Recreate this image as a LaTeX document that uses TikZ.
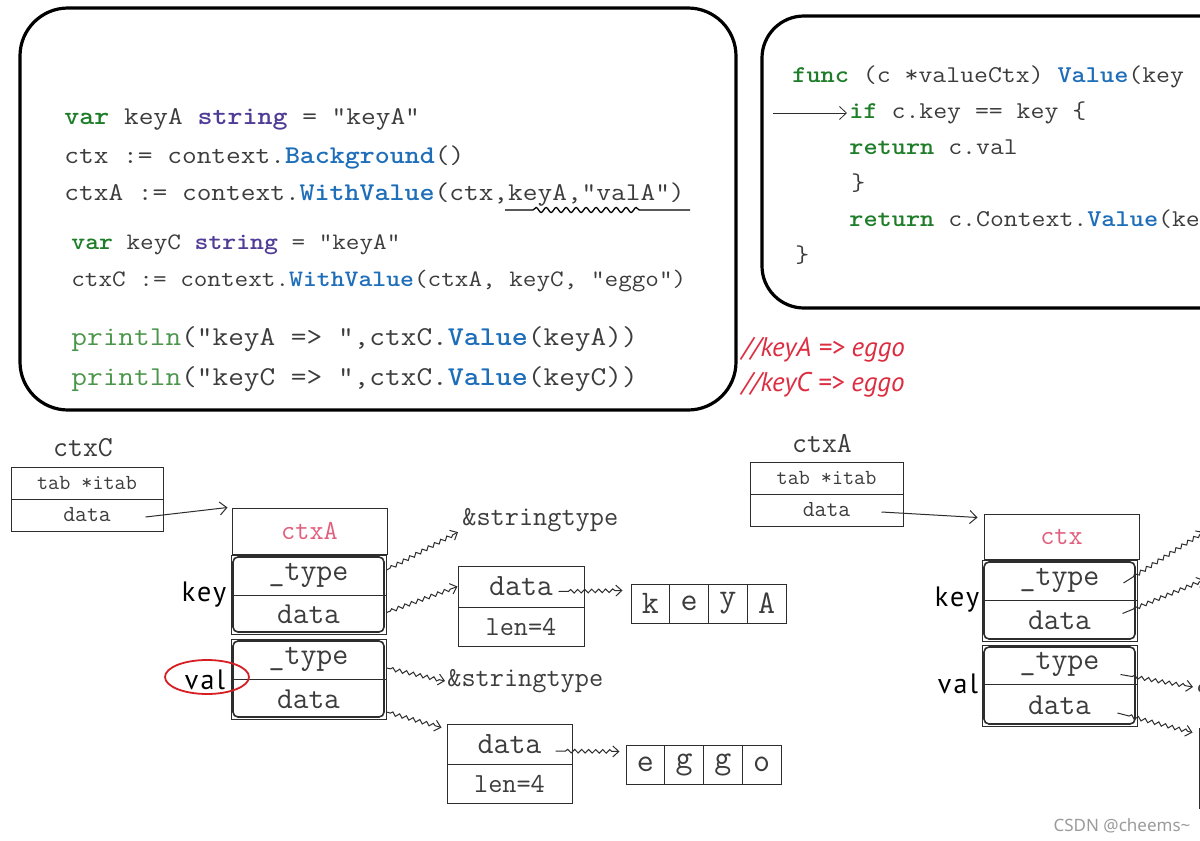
\documentclass[tikz,border=0pt]{standalone}
\usepackage{fontspec}
\usepackage{graphicx}
\setmainfont{Liberation Sans}
\newfontfamily\handfont{PT Sans}
\newfontfamily\markfont{Noto Sans}
\usetikzlibrary{arrows.meta,decorations.pathmorphing,shapes.geometric,fit,calc}

\definecolor{codegray}{RGB}{60,60,60}
\definecolor{kwgreen}{RGB}{30,125,40}
\definecolor{typepurple}{RGB}{80,60,150}
\definecolor{fnblue}{RGB}{30,110,185}
\definecolor{printgreen}{RGB}{75,150,75}
\definecolor{ctxpink}{RGB}{225,95,125}
\definecolor{notered}{RGB}{220,45,65}
\definecolor{ringred}{RGB}{215,30,35}
\definecolor{boxgray}{RGB}{45,45,45}
\definecolor{markgray}{RGB}{155,155,155}

\newcommand{\kw}[1]{\textcolor{kwgreen}{\textbf{#1}}}
\newcommand{\ty}[1]{\textcolor{typepurple}{\textbf{#1}}}
\newcommand{\fn}[1]{\textcolor{fnblue}{\textbf{#1}}}
\newcommand{\fsz}[1]{\fontsize{#1}{#1}\selectfont}
\newcommand{\wide}[1]{\scalebox{1.12}[1]{#1}}

\tikzset{every picture/.style={line width=0.75pt}}
\tikzset{
  codeline/.style={anchor=west, inner sep=0pt, text=codegray, font=\ttfamily\fsz{25.5}},
  cell/.style={draw=boxgray, line width=1pt, inner sep=0pt, text=codegray, font=\ttfamily\fsz{23}},
  charcell/.style={cell, minimum width=38.75pt, minimum height=39pt, font=\ttfamily\fsz{33}},
  framein/.style={draw=boxgray, line width=1.6pt, rounded corners=5pt, inner sep=-2.5pt},
  sidelabel/.style={font=\handfont\addfontfeature{LetterSpace=8}\fsz{28}, text=black, inner sep=0pt},
  note/.style={anchor=west, inner sep=0pt, font=\handfont\itshape\fsz{27}, text=notered},
  wavy/.style={draw=boxgray, line width=1pt, decorate, decoration={snake, amplitude=1.8pt, segment length=7pt, pre length=#1, post length=5pt}, -{Straight Barb[length=6pt,width=11pt]}},
  wavy/.default=4pt,
  plain/.style={draw=boxgray, line width=1pt, -{Straight Barb[length=7pt,width=13pt]}},
}

\begin{document}
\begin{tikzpicture}[x=1pt,y=1pt,yscale=-1,xscale=1]
\path [use as bounding box, fill=white] (0,0) rectangle (1200,841);

%Shape: Rounded Rect [left code]
\draw [line width=3.2pt, rounded corners=48pt] (20,8) rectangle (736,410);
%Shape: Rounded Rect [right code]
\draw [line width=3.2pt, rounded corners=42pt] (762,16) rectangle (1262,308);

% Text Node
\draw (64,119) node (lnA) [codeline] {\wide{\kw{var} keyA \ty{string} = "keyA"}};
% Text Node
\draw (64,157) node (lnB) [codeline] {\wide{ctx := context.\fn{Background}()}};
% Text Node
\draw (64,195) node (lnC) [codeline] {\wide{ctxA := context.\fn{WithValue}(ctx,keyA,"valA")}};
% Text Node
\draw (71,245) node (lnD) [codeline, font=\ttfamily\fsz{23.6}] {\wide{\kw{var} keyC \ty{string} = "keyA"}};
% Text Node
\draw (71,281) node (lnE) [codeline, font=\ttfamily\fsz{23.6}] {\wide{ctxC := context.\fn{WithValue}(ctxA, keyC, "eggo")}};
% Text Node
\draw (71,339) node (lnF) [codeline, font=\ttfamily\fsz{27.2}] {\wide{\textcolor{printgreen}{println}("keyA => ",ctxC.\fn{Value}(keyA))}};
% Text Node
\draw (71,379) node (lnG) [codeline, font=\ttfamily\fsz{27.2}] {\wide{\textcolor{printgreen}{println}("keyC => ",ctxC.\fn{Value}(keyC))}};
%Curve Lines [underline]
\draw [line width=1.3pt, decorate, decoration={snake, amplitude=2.5pt, segment length=10pt, pre length=28pt, post length=48pt}] (505,210) -- (690,210);

% Text Node
\draw (792,77) node (fnA) [codeline, font=\ttfamily\fsz{24.1}] {\wide{\kw{func} (c *valueCtx) \fn{Value}(key}};
% Text Node
\draw (849,113) node (fnB) [codeline, font=\ttfamily\fsz{24.1}] {\wide{\kw{if} c.key == key \{}};
% Text Node
\draw (849,147) node (fnC) [codeline, font=\ttfamily\fsz{24.1}] {\wide{\kw{return} c.val}};
% Text Node
\draw (851,183) node (fnD) [codeline, font=\ttfamily\fsz{24.1}] {\wide{\}}};
% Text Node
\draw (849,219) node (fnE) [codeline, font=\ttfamily\fsz{24.1}] {\wide{\kw{return} c.Context.\fn{Value}(ke}};
% Text Node
\draw (795,255) node (fnF) [codeline, font=\ttfamily\fsz{24.1}] {\wide{\}}};
\coordinate (ifarr) at (773,113);
\draw [plain, line width=0.8pt] (ifarr) -- ([xshift=-2pt]fnB.west);

% Text Node
\draw (742,350) node (noteA) [note] {//keyA => eggo};
% Text Node
\draw (742,385) node (noteC) [note] {//keyC => eggo};

%---- ctxC side
\draw (83,448) node (ctxClbl) [inner sep=0pt, text=codegray, font=\ttfamily\fsz{29}] {ctxC};
\draw (87,483) node (ctxCtab) [cell, minimum width=152pt, minimum height=32pt, font=\ttfamily\fsz{21.5}] {tab *itab};
\draw (87,515) node (ctxCdata) [cell, minimum width=152pt, minimum height=32pt] {data};

\draw (309.5,531) node (ctxAhead) [cell, minimum width=155pt, minimum height=46pt, text=ctxpink, font=\ttfamily\fsz{27.5}] {ctxA};
\draw (308.5,575) node (keytype) [cell, minimum width=155pt, minimum height=40pt, font=\ttfamily\fsz{31}] {\_type};
\draw (308.5,614.5) node (keydata) [cell, minimum width=155pt, minimum height=39pt, font=\ttfamily\fsz{30.5}] {data};
\node [framein, fit=(keytype)(keydata)] {};
\draw (308.5,659) node (valtype) [cell, minimum width=155pt, minimum height=40pt, font=\ttfamily\fsz{31}] {\_type};
\draw (308.5,699) node (valdata) [cell, minimum width=155pt, minimum height=40pt, font=\ttfamily\fsz{30.5}] {data};
\node [framein, fit=(valtype)(valdata)] {};

\draw (204,595) node (keylbl) [sidelabel] {key};
\draw (205,680) node (vallbl) [sidelabel] {val};
\draw (207,677) node (valring) [ellipse, draw=ringred, line width=1.8pt, minimum width=84pt, minimum height=34pt] {};

\draw (462,520) node (strA) [anchor=west, inner sep=0pt, text=codegray, font=\ttfamily\fsz{27.5}] {\&stringtype};
\draw (447,681) node (strB) [anchor=west, inner sep=0pt, text=codegray, font=\ttfamily\fsz{27.5}] {\&stringtype};

\draw (521,586.5) node (dboxAdata) [cell, minimum width=126pt, minimum height=41pt, font=\ttfamily\fsz{31}] {data};
\draw (521,626.5) node (dboxAlen) [cell, minimum width=126pt, minimum height=39pt, font=\ttfamily\fsz{27.5}] {len=4};
\draw (509.5,744) node (dboxBdata) [cell, minimum width=125pt, minimum height=40pt, font=\ttfamily\fsz{31}] {data};
\draw (509.5,783.5) node (dboxBlen) [cell, minimum width=125pt, minimum height=39pt, font=\ttfamily\fsz{27.5}] {len=4};

\foreach \ch [count=\i] in {k,e,y,A}
  \draw (611.625+38.75*\i,603.5) node (kA\i) [charcell] {\ch};
\foreach \ch [count=\i] in {e,g,g,o}
  \draw (606.625+38.75*\i,764.5) node (eg\i) [charcell] {\ch};

%Straight Lines
\draw [plain] ($(ctxCdata.east)+(-18,2)$) -- ($(ctxAhead.north west)+(-4,0)$);
%Snake Lines
\draw [wavy] ($(keytype.east)+(0,-5)$) -- ($(strA.south west)+(-4,0)$);
\draw [wavy] ($(keydata.east)+(0,-2)$) -- (dboxAdata.west);
\draw [wavy] ($(valtype.east)+(0,9)$) -- ([xshift=-2pt]strB.west);
\draw [wavy] ($(valdata.east)+(0,13)$) -- ($(dboxBdata.north west)+(-5,4)$);
\draw [wavy=10pt] ($(dboxAdata.east)+(-26,5)$) -- ($(kA1.west)+(-8,-13)$);
\draw [wavy=10pt] ($(dboxBdata.east)+(-17,7)$) -- ($(eg1.west)+(-6,-13)$);

%---- ctxA side
\draw (822,444) node (ctxAlbl) [inner sep=0pt, text=codegray, font=\ttfamily\fsz{29}] {ctxA};
\draw (826.5,478) node (Atab) [cell, minimum width=153pt, minimum height=32pt, font=\ttfamily\fsz{21.5}] {tab *itab};
\draw (826.5,510) node (Adata) [cell, minimum width=153pt, minimum height=32pt] {data};

\draw (1061.5,536.5) node (ctxhead) [cell, minimum width=155pt, minimum height=45pt, text=ctxpink, font=\ttfamily\fsz{27.5}] {ctx};
\draw (1059.5,580) node (rkeytype) [cell, minimum width=155pt, minimum height=40pt, font=\ttfamily\fsz{31}] {\_type};
\draw (1059.5,620.5) node (rkeydata) [cell, minimum width=155pt, minimum height=41pt, font=\ttfamily\fsz{30.5}] {data};
\node [framein, fit=(rkeytype)(rkeydata)] {};
\draw (1059.5,664.5) node (rvaltype) [cell, minimum width=155pt, minimum height=39pt, font=\ttfamily\fsz{31}] {\_type};
\draw (1059.5,705) node (rvaldata) [cell, minimum width=155pt, minimum height=42pt, font=\ttfamily\fsz{30.5}] {data};
\node [framein, fit=(rvaltype)(rvaldata)] {};

\draw (957,600) node (rkeylbl) [sidelabel] {key};
\draw (958,684) node (rvallbl) [sidelabel] {val};

\draw (1197,687) node (rstrB) [anchor=west, inner sep=0pt, text=codegray, font=\ttfamily\fsz{27.5}] {\&stringtype};
\draw (1261.5,748) node (rdboxdata) [cell, minimum width=125pt, minimum height=40pt] {};
\draw (1261.5,788) node (rdboxlen) [cell, minimum width=125pt, minimum height=40pt] {};
\coordinate (rstrA) at (1204,532);
\coordinate (rdboxA) at (1204,580);

%Straight Lines
\draw [plain] ($(Adata.east)+(-22,2)$) -- ($(ctxhead.north west)+(-6,4)$);
%Snake Lines
\draw [wavy=12pt] ($(rkeytype.east)+(-14,3)$) -- (rstrA);
\draw [wavy=12pt] ($(rkeydata.east)+(-15,-7)$) -- (rdboxA);
\draw [wavy=12pt] ($(rvaltype.east)+(-17,10)$) -- ([xshift=-4pt]rstrB.west);
\draw [wavy=12pt] ($(rvaldata.east)+(-20,8)$) -- ($(rdboxdata.north west)+(-6,5)$);

% Text Node
\draw (1122,826) node (wmark) [inner sep=0pt, text=markgray, font=\markfont\fsz{17}] {CSDN @cheems\textasciitilde};

\end{tikzpicture}
\end{document}
